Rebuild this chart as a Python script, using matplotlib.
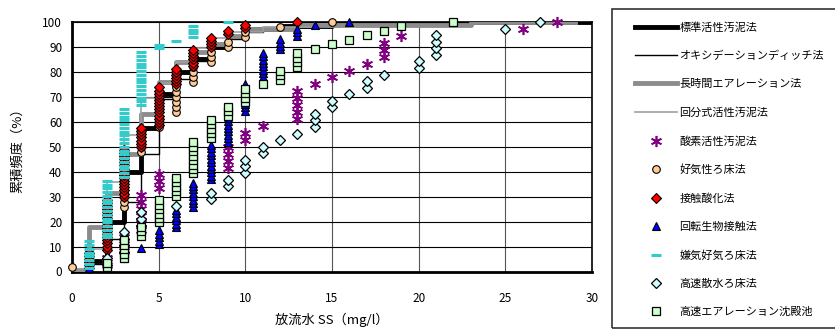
import numpy as np
import matplotlib
matplotlib.use("Agg")
import matplotlib.pyplot as plt
from matplotlib.lines import Line2D
from matplotlib.patches import Rectangle

plt.rcParams['font.family'] = ['Noto Sans CJK JP', 'DejaVu Sans']

# --- 線で描く処理方式（累積頻度の階段線） ---
x_std = [0, 1, 2, 3, 4, 5, 6, 7, 8, 9, 10, 12, 15, 31]
y_std = [0, 4.4, 19.7, 39.8, 57.5, 71, 80, 85, 90, 94, 97, 98.5, 100, 100]

x_od = [0, 1, 2, 3, 4, 5, 6, 7, 8, 9, 10, 11, 13, 17]
y_od = [0, 3, 13, 28, 47, 69, 77, 84.5, 90, 93, 96, 98, 99, 100]

x_ea = [0, 1, 2, 3, 4, 5, 6, 7, 8, 9, 10, 13, 23, 29]
y_ea = [0.5, 17.7, 31.3, 47, 63, 76, 84, 88, 91, 94.5, 97, 98.8, 100, 100]

x_sb = [0, 1, 2, 3, 4, 5, 6, 7, 8, 9, 11, 14]
y_sb = [1.2, 9, 35.7, 54.6, 69.5, 75.5, 84, 89.5, 93.6, 96, 98, 100]

# --- 点で描く処理方式（SS値ごとの件数） ---
ss_o2 = [2, 3, 4, 5, 9, 10, 11, 13, 14, 15, 16, 17, 18, 19, 26, 28]
n_o2 = [2, 3, 6, 3, 4, 2, 1, 5, 1, 1, 1, 1, 3, 1, 1, 1]

ss_bf = [0, 1, 2, 3, 4, 5, 6, 7, 8, 9, 10, 12, 15]
n_bf = [1, 3, 8, 11, 5, 3, 6, 4, 3, 2, 2, 1, 1]

ss_co = [1, 2, 3, 4, 5, 6, 7, 8, 9, 10, 13]
n_co = [6, 17, 16, 7, 13, 6, 6, 4, 2, 2, 1]

ss_rbc = [1, 2, 3, 4, 5, 6, 7, 8, 9, 10, 11, 12, 13, 14, 16]
n_rbc = [1, 2, 3, 1, 5, 6, 8, 11, 9, 9, 9, 4, 3, 1, 1]

ss_aab = [1, 2, 3, 4, 5, 6, 7, 9]
n_aab = [8, 16, 19, 15, 2, 1, 4, 1]

ss_htf = [2, 3, 4, 6, 8, 9, 10, 11, 12, 13, 14, 15, 16, 17, 18, 20, 21, 25, 27]
n_htf = [2, 4, 3, 1, 2, 2, 3, 2, 1, 1, 3, 2, 1, 2, 1, 2, 4, 1, 1]

ss_hra = [2, 3, 4, 5, 6, 7, 8, 9, 10, 11, 12, 13, 14, 15, 16, 17, 18, 19, 22]
n_hra = [2, 5, 3, 6, 5, 8, 5, 3, 4, 1, 3, 4, 1, 1, 1, 1, 1, 1, 1]


def cum_points(ss, n):
    # 1件ずつ累積頻度（%）を計算
    xs = np.repeat(ss, n)
    ys = np.arange(1, len(xs) + 1) / len(xs) * 100
    return xs, ys


fig = plt.figure(figsize=(8.35, 3.32), dpi=100)
ax = fig.add_axes([72 / 835, 1 - 271.5 / 332, 520 / 835, 249.5 / 332])

ax.plot(x_std, y_std, drawstyle='steps-post', color='black', lw=3.5, zorder=3)
ax.plot(x_od, y_od, drawstyle='steps-post', color='black', lw=1.0, zorder=3)
ax.plot(x_ea, y_ea, drawstyle='steps-post', color='#8c8c8c', lw=3.5, zorder=3)
ax.plot(x_sb, y_sb, drawstyle='steps-post', color='#a0a0a0', lw=1.2, zorder=3)

styles = [
    (ss_o2, n_o2, dict(marker=(6, 2, 0), ms=8, mec='#800080', mfc='none', mew=1.2)),
    (ss_bf, n_bf, dict(marker='o', ms=5.5, mec='black', mfc='#FFCC99', mew=0.8)),
    (ss_co, n_co, dict(marker='D', ms=5, mec='black', mfc='red', mew=0.8)),
    (ss_rbc, n_rbc, dict(marker='^', ms=6, mec='black', mfc='blue', mew=0.8)),
    (ss_aab, n_aab, dict(marker='_', ms=7.5, mec='#33CCCC', mew=2.2)),
    (ss_htf, n_htf, dict(marker='D', ms=5, mec='black', mfc='#CCFFFF', mew=0.9)),
    (ss_hra, n_hra, dict(marker='s', ms=5.5, mec='black', mfc='#CCFFCC', mew=0.9)),
]
for i, (ss, n, st) in enumerate(styles):
    xs, ys = cum_points(ss, n)
    ax.plot(xs, ys, ls='none', zorder=4 + i, clip_on=False, **st)

ax.set_xlim(0, 30)
ax.set_ylim(0, 100)
ax.set_xticks(range(0, 31, 5))
ax.set_yticks(range(0, 101, 10))
ax.grid(axis='y', color='black', lw=0.8)
ax.grid(axis='x', color='#555555', lw=0.8)
ax.set_axisbelow(True)
ax.tick_params(axis='x', labelsize=8.5, length=0, pad=14.5)
ax.tick_params(axis='y', labelsize=8.5, length=0, pad=7)
for s in ['left', 'bottom']:
    ax.spines[s].set_linewidth(2)
for s in ['top', 'right']:
    ax.spines[s].set_linewidth(1.2)
ax.set_xlabel('放流水 SS（mg/l）', fontsize=9.5, labelpad=6)
ax.set_ylabel('累積頻度（%）', fontsize=9.5, labelpad=13)

labels = ['標準活性汚泥法', 'オキシデーションディッチ法', '長時間エアレーション法',
          '回分式活性汚泥法', '酸素活性汚泥法', '好気性ろ床法', '接触酸化法',
          '回転生物接触法', '嫌気好気ろ床法', '高速散水ろ床法', '高速エアレーション沈殿池']
handles = [
    Line2D([], [], color='black', lw=3.5),
    Line2D([], [], color='black', lw=1.0),
    Line2D([], [], color='#8c8c8c', lw=3.5),
    Line2D([], [], color='#a0a0a0', lw=1.2),
]
for ss, n, st in styles:
    handles.append(Line2D([], [], ls='none', **st))

fig.legend(handles, labels, loc='upper left', bbox_to_anchor=(635 / 835, 1 - 22 / 332),
           fontsize=8, frameon=False, handlelength=3.8, handletextpad=0.2,
           labelspacing=1.625, borderpad=0, borderaxespad=0)
fig.add_artist(Rectangle((612 / 835, 1 - 328 / 332), 240 / 835, 319 / 332,
                         transform=fig.transFigure, fill=False, lw=1.2,
                         edgecolor='#333333', clip_on=False))

fig.savefig('out.png', dpi=100)
